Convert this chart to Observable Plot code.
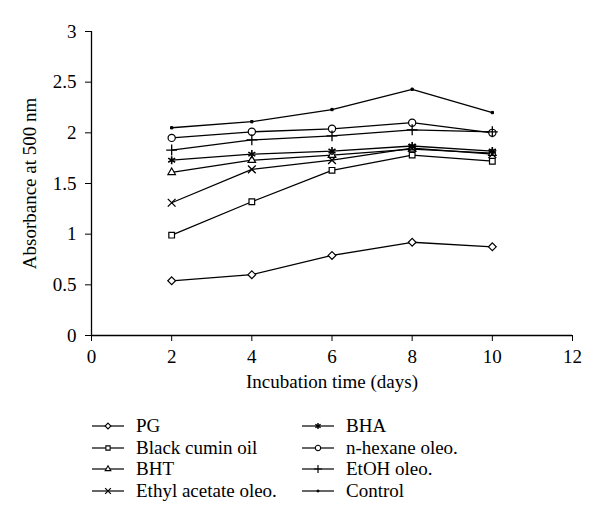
<!DOCTYPE html>
<html>
<head>
<meta charset="utf-8">
<script src="https://cdn.jsdelivr.net/npm/d3@7"></script>
<script src="https://cdn.jsdelivr.net/npm/@observablehq/plot@0.6"></script>
<style>
  html, body { margin: 0; padding: 0; background: white; }
  #wrap { width: 600px; height: 527px; position: relative; font-family: "Liberation Serif", "DejaVu Serif", serif; }
  #legend { position: absolute; left: 0; top: 0; width: 600px; }
  .item { position: absolute; display: flex; align-items: center; font-size: 19px; color: black; white-space: nowrap; }
  .item span { margin-left: 12px; }
</style>
</head>
<body>
<div id="wrap"><div id="chart"></div><div id="legend"></div></div>
<script>
const days = [2, 4, 6, 8, 10];
const seriesNames = ["PG", "Black cumin oil", "BHT", "Ethyl acetate oleo.", "BHA", "n-hexane oleo.", "EtOH oleo.", "Control"];
const pg = [0.54, 0.60, 0.79, 0.92, 0.875];
const blackCumin = [0.99, 1.32, 1.63, 1.78, 1.72];
const bht = [1.61, 1.73, 1.78, 1.84, 1.80];
const ethylAcetate = [1.31, 1.64, 1.73, 1.85, 1.79];
const bha = [1.73, 1.79, 1.82, 1.87, 1.82];
const nHexane = [1.95, 2.01, 2.04, 2.10, 2.00];
const etoh = [1.83, 1.93, 1.97, 2.03, 2.01];
const control = [2.05, 2.11, 2.23, 2.43, 2.20];
const yTicks = [0, 0.5, 1, 1.5, 2, 2.5, 3];
const xTicks = [0, 2, 4, 6, 8, 10, 12];

const seriesValues = [pg, blackCumin, bht, ethylAcetate, bha, nHexane, etoh, control];
const symbolNames = ["diamond2", "square2", "triangle2", "times", "asterisk", "circle", "plus", "square"];
const symbolR = [3.5, 3.6, 3.6, 3.6, 3.8, 3.6, 3.6, 1.3];
const symbolFill = ["white", "white", "white", "none", "none", "white", "none", "black"];
const symbolSW = [1.2, 1.2, 1.2, 1.3, 1.6, 1.2, 1.3, 1];

const data = [];
seriesNames.forEach((name, i) => {
  days.forEach((d, j) => data.push({series: name, day: d, value: seriesValues[i][j]}));
});

const marks = [
  Plot.ruleX([0], {stroke: "black", strokeWidth: 1.3}),
  Plot.ruleY([0], {stroke: "black", strokeWidth: 1.3}),
  Plot.axisX({ticks: xTicks, tickSize: 6, tickPadding: 8, tickFormat: d => String(d),
    label: "Incubation time (days)", labelAnchor: "center", labelArrow: "none", labelOffset: 52}),
  Plot.axisY({ticks: yTicks, tickSize: 6, tickPadding: 9, tickFormat: d => String(d),
    label: "Absorbance at 500 nm", labelAnchor: "center", labelArrow: "none", labelOffset: 69}),
  Plot.line(data, {x: "day", y: "value", z: "series", stroke: "black", strokeWidth: 1.3})
];
seriesNames.forEach((name, i) => {
  marks.push(Plot.dot(data.filter(d => d.series === name), {
    x: "day", y: "value", symbol: symbolNames[i], r: symbolR[i],
    fill: symbolFill[i], stroke: "black", strokeWidth: symbolSW[i]
  }));
});

const chart = Plot.plot({
  width: 600,
  height: 400,
  marginLeft: 91,
  marginRight: 28,
  marginTop: 31,
  marginBottom: 65,
  x: {domain: [0, 12]},
  y: {domain: [0, 3]},
  style: {fontFamily: "'Liberation Serif', 'DejaVu Serif', serif", fontSize: "19px", color: "black", background: "white", overflow: "visible"},
  marks
});
document.getElementById("chart").appendChild(chart);

// legend
const legend = document.getElementById("legend");
const symMap = {diamond2: d3.symbolDiamond2, square2: d3.symbolSquare2, triangle2: d3.symbolTriangle2,
  times: d3.symbolTimes, asterisk: d3.symbolAsterisk, circle: d3.symbolCircle, plus: d3.symbolPlus, square: d3.symbolSquare};
const rowY = [426, 447.5, 469, 490.5];
const colX = [92, 302];
seriesNames.forEach((name, i) => {
  const col = Math.floor(i / 4), row = i % 4;
  const div = document.createElement("div");
  div.className = "item";
  div.style.left = colX[col] + "px";
  div.style.top = (rowY[row] - 10) + "px";
  div.style.height = "20px";
  const r = symbolR[i] * 0.75;
  const path = d3.symbol(symMap[symbolNames[i]], Math.PI * r * r)();
  div.innerHTML = `<svg width="32" height="12" viewBox="0 0 32 12"><line x1="0" x2="32" y1="6" y2="6" stroke="black" stroke-width="1.2"/><path transform="translate(16,6)" d="${path}" fill="${symbolFill[i]}" stroke="black" stroke-width="${symbolSW[i]*0.9}"/></svg><span>${name}</span>`;
  legend.appendChild(div);
});
</script>
</body>
</html>
